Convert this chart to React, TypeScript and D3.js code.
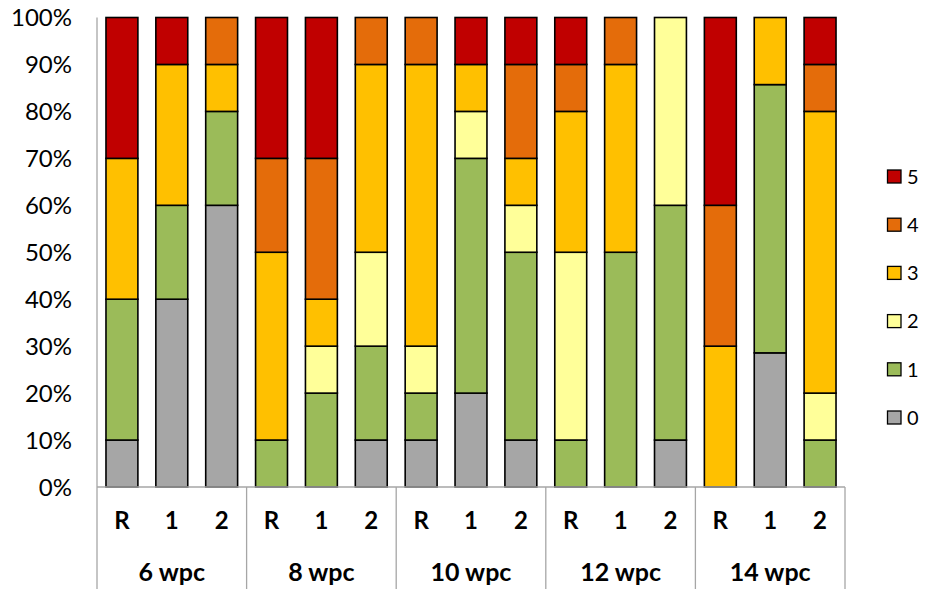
import React from "react";
import * as d3 from "d3";

const groups = ["6 wpc", "8 wpc", "10 wpc", "12 wpc", "14 wpc"];
const subLabels = ["R", "1", "2"];
const seriesKeys = ["0", "1", "2", "3", "4", "5"];
const seriesColors = ["#A6A6A6", "#9BBB59", "#FFFF99", "#FFC000", "#E46C0A", "#C00000"];

// per bar (15 bars: 5 groups x R,1,2), percentages for scores 0..5
const score0 = [10, 40, 60, 0, 0, 10, 10, 20, 10, 0, 0, 10, 0, 28.57, 0];
const score1 = [30, 20, 20, 10, 20, 20, 10, 50, 40, 10, 50, 50, 0, 57.14, 10];
const score2 = [0, 0, 0, 0, 10, 20, 10, 10, 10, 40, 0, 40, 0, 0, 10];
const score3 = [30, 30, 10, 40, 10, 40, 60, 10, 10, 30, 40, 0, 30, 14.29, 60];
const score4 = [0, 0, 10, 20, 30, 10, 10, 0, 20, 10, 10, 0, 30, 0, 10];
const score5 = [30, 10, 0, 30, 30, 0, 0, 10, 10, 10, 0, 0, 40, 0, 10];

const yTicks = [0, 10, 20, 30, 40, 50, 60, 70, 80, 90, 100];

const W = 929;
const H = 589;
const left = 97;
const right = 845;
const top = 17.5;
const bottom = 487;
const font = "Lato, 'Open Sans', sans-serif";

export default function App() {
  const allSeries = [score0, score1, score2, score3, score4, score5];
  const bars = groups.flatMap((g, gi) => subLabels.map((s, si) => ({ id: gi * 3 + si, group: g, sub: s })));
  const rows = bars.map((b) => {
    const r: Record<string, number | string> = { id: String(b.id) };
    seriesKeys.forEach((k, ki) => (r[k] = allSeries[ki][b.id]));
    return r;
  });
  const stack = d3.stack<any>().keys(seriesKeys)(rows as any);

  const x = d3
    .scaleBand<string>()
    .domain(bars.map((b) => String(b.id)))
    .range([left, right])
    .paddingInner(0.36)
    .paddingOuter(0.18);
  const y = d3.scaleLinear().domain([0, 100]).range([bottom, top]);
  const groupX = d3.scaleBand<string>().domain(groups).range([left, right]);

  const lineColor = "#A6A6A6";

  return (
    <svg
      width={W}
      height={H}
      style={{ position: "absolute", left: 0, top: 0, background: "#fff" }}
      xmlns="http://www.w3.org/2000/svg"
    >
      {stack.map((layer, li) => (
        <g key={li}>
          {layer.map((d, i) => {
            const h = y(d[0]) - y(d[1]);
            if (h <= 0.01) return null;
            return (
              <rect
                key={i}
                x={x(String(i))!}
                y={y(d[1])}
                width={x.bandwidth()}
                height={h}
                fill={seriesColors[li]}
                stroke="#000"
                strokeWidth={1.6}
              />
            );
          })}
        </g>
      ))}

      <line x1={left} x2={left} y1={top} y2={H} stroke={lineColor} strokeWidth={1.3} />
      <line x1={left} x2={right} y1={bottom} y2={bottom} stroke={lineColor} strokeWidth={1.3} />
      {groups.map((g) => (
        <line
          key={g}
          x1={groupX(g)! + groupX.bandwidth()}
          x2={groupX(g)! + groupX.bandwidth()}
          y1={bottom}
          y2={H}
          stroke={lineColor}
          strokeWidth={1.3}
        />
      ))}

      {yTicks.map((t) => (
        <text key={t} x={72} y={y(t)} dy="0.36em" textAnchor="end" fontFamily={font} fontSize={24} fill="#000">
          {t}%
        </text>
      ))}

      {bars.map((b) => (
        <text
          key={b.id}
          x={x(String(b.id))! + x.bandwidth() / 2}
          y={520}
          dy="0.36em"
          textAnchor="middle"
          fontFamily={font}
          fontWeight="bold"
          fontSize={24}
        >
          {b.sub}
        </text>
      ))}

      {groups.map((g) => (
        <text
          key={g}
          x={groupX(g)! + groupX.bandwidth() / 2}
          y={572}
          dy="0.36em"
          textAnchor="middle"
          fontFamily={font}
          fontWeight="bold"
          fontSize={25}
        >
          {g}
        </text>
      ))}

      {seriesKeys
        .slice()
        .reverse()
        .map((k, i) => {
          const idx = seriesKeys.indexOf(k);
          const cy = 176.5 + i * 48.2;
          return (
            <g key={k}>
              <rect x={887.5} y={cy - 6.5} width={13.5} height={13} fill={seriesColors[idx]} stroke="#000" strokeWidth={1.3} />
              <text x={907} y={cy} dy="0.36em" fontFamily={font} fontSize={20}>
                {k}
              </text>
            </g>
          );
        })}
    </svg>
  );
}
